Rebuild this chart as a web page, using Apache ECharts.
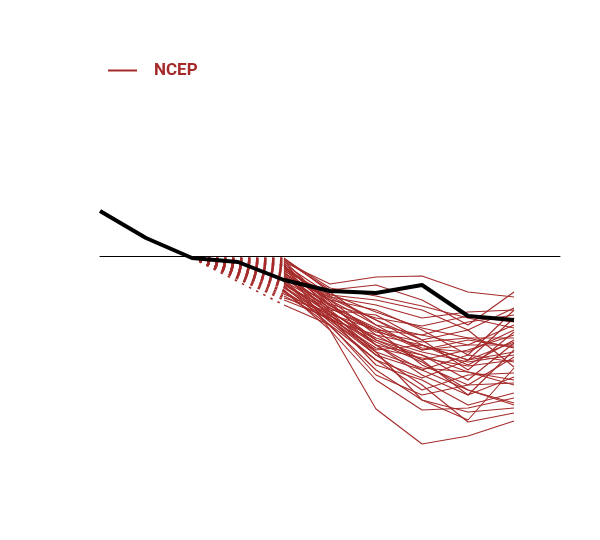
<!DOCTYPE html>
<html>
<head>
<meta charset="utf-8">
<script src="https://cdn.jsdelivr.net/npm/echarts@6/dist/echarts.min.js"></script>
<style>html,body{margin:0;padding:0;background:#fff}#c{width:600px;height:540px}</style>
</head>
<body>
<div id="c"></div>
<script>
// x positions (season index); observed anomaly, ensemble members start at index 4
const obsX = [0, 1, 2, 3, 4, 5, 6, 7, 8, 9];
const observed = [0.90, 0.36, -0.04, -0.12, -0.48, -0.70, -0.74, -0.58, -1.20, -1.28];
const memberX = [4, 5, 6, 7, 8, 9];
const members = [
  [-0.12,-0.56,-0.42,-0.40,-0.72,-0.82],
  [-0.08,-0.68,-0.58,-0.88,-1.38,-0.72],
  [-0.16,-0.78,-0.88,-1.08,-1.48,-1.04],
  [-0.20,-0.88,-1.08,-1.48,-1.98,-1.08],
  [-0.24,-0.84,-1.28,-1.78,-2.08,-1.24],
  [-0.28,-0.98,-1.48,-1.88,-1.78,-1.38],
  [-0.14,-1.08,-1.18,-1.68,-2.28,-1.52],
  [-0.32,-1.12,-1.68,-2.08,-1.88,-1.58],
  [-0.36,-0.88,-1.58,-1.78,-2.18,-1.68],
  [-0.40,-1.18,-1.78,-1.98,-2.48,-1.74],
  [-0.04,-0.72,-1.38,-1.88,-1.68,-1.82],
  [-0.18,-1.24,-1.88,-1.78,-2.08,-1.92],
  [-0.44,-1.04,-1.48,-2.18,-2.58,-2.02],
  [-0.48,-1.28,-1.98,-2.28,-1.98,-2.12],
  [-0.26,-0.80,-1.28,-1.68,-1.48,-2.22],
  [-0.52,-1.32,-2.08,-2.68,-2.38,-2.34],
  [-0.56,-1.08,-1.78,-2.38,-2.78,-2.42],
  [-0.60,-1.38,-2.38,-2.78,-2.58,-2.54],
  [-0.10,-0.98,-1.68,-1.98,-2.32,-2.58],
  [-0.64,-1.24,-2.18,-2.48,-2.98,-2.74],
  [-0.68,-1.48,-2.48,-3.08,-3.04,-2.84],
  [-0.22,-0.92,-1.78,-2.28,-2.68,-2.94],
  [-0.72,-1.40,-2.28,-2.88,-3.12,-3.04],
  [-0.18,-1.48,-3.06,-3.76,-3.60,-3.30],
  [-0.76,-1.18,-1.98,-2.58,-3.32,-3.14],
  [-0.80,-1.28,-1.58,-2.08,-2.78,-1.88],
  [-0.34,-0.88,-1.38,-1.58,-1.78,-1.78],
  [-0.84,-1.12,-1.64,-1.92,-2.12,-1.98],
  [-0.38,-1.00,-1.44,-1.84,-1.92,-1.48],
  [-0.88,-1.24,-1.84,-2.04,-2.20,-2.08],
  [-0.30,-0.76,-1.12,-1.44,-1.64,-1.64],
  [-0.98,-1.38,-2.08,-2.44,-2.08,-1.72],
  [-0.46,-0.96,-1.24,-1.40,-1.20,-1.32],
  [-0.54,-1.16,-1.48,-1.58,-1.32,-1.18],
  [-0.42,-0.82,-0.98,-1.24,-1.12,-1.08],
  [-0.62,-1.20,-1.72,-2.12,-2.68,-2.98],
  [-0.70,-1.28,-1.92,-2.24,-2.32,-2.48],
  [-0.06,-0.64,-0.80,-1.00,-1.24,-1.44],
  [-0.50,-1.04,-1.52,-1.72,-1.64,-1.84],
  [-0.58,-1.12,-1.92,-2.88,-3.28,-2.24]
];
const modelName = 'NCEP';
const anchorIndex = 2; // last observation the plume is linked from

const red = '#a52a2a';
const series = [];
members.forEach(m => {
  series.push({
    name: modelName, type: 'line', symbol: 'none', silent: true, z: 2,
    lineStyle: { color: red, width: 1.6, type: [2.5, 5.5] },
    data: [[obsX[anchorIndex], observed[anchorIndex]], [memberX[0], m[0]]]
  });
  series.push({
    name: modelName, type: 'line', symbol: 'none', silent: true, z: 2,
    lineStyle: { color: red, width: 1.1 },
    data: m.map((v, i) => [memberX[i], v])
  });
});
series.push({
  name: 'obs', type: 'line', symbol: 'none', z: 5,
  lineStyle: { color: '#000', width: 4 },
  data: observed.map((v, i) => [obsX[i], v])
});

const chart = echarts.init(document.getElementById('c'));
chart.setOption({
  animation: false,
  backgroundColor: '#fff',
  color: [red],
  grid: { left: 100, right: 40, top: 56, bottom: 84 },
  legend: {
    data: [{ name: modelName, icon: 'rect' }],
    left: 108, top: 62, padding: 0,
    itemWidth: 29, itemHeight: 2,
    itemStyle: { color: red },
    textStyle: { color: red, fontWeight: 'bold', fontSize: 17, fontFamily: 'Roboto', padding: [0, 0, 0, 12] }
  },
  xAxis: {
    type: 'value', min: 0, max: 10,
    axisLine: { show: true, onZero: true, lineStyle: { color: '#000', width: 1 } },
    axisTick: { show: false }, axisLabel: { show: false }, splitLine: { show: false }
  },
  yAxis: {
    type: 'value', min: -4, max: 4,
    axisLine: { show: false }, axisTick: { show: false }, axisLabel: { show: false }, splitLine: { show: false }
  },
  series: series
});
</script>
</body>
</html>
